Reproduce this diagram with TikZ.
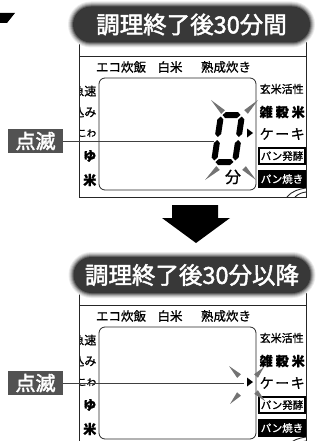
\documentclass[tikz,border=0pt]{standalone}
\usepackage{fontspec}
\setmainfont{Noto Sans CJK JP}[FakeBold=1]
\newfontfamily\heavy{Noto Sans CJK JP}[FakeBold=2]
\usetikzlibrary{shapes.misc, calc}

\newcommand{\fs}[1]{\fontsize{#1}{#1}\selectfont}
% segments of the seven-segment digit
\newcommand{\hseg}[3]{\fill (#1,#3) -- (#1+3,#3-3) -- (#2-3,#3-3) -- (#2,#3) -- (#2-3,#3+3) -- (#1+3,#3+3) -- cycle;}
\newcommand{\vseg}[3]{\fill (#1,#2) -- (#1+3,#2+3) -- (#1+3,#3-3) -- (#1,#3) -- (#1-3,#3-3) -- (#1-3,#2+3) -- cycle;}
% blink ray: tip outside, base near the mark
\newcommand{\ray}[2]{\fill[rayfill] (#1) -- ($(#2)!2.6pt!90:(#1)$) -- ($(#2)!2.6pt!-90:(#1)$) -- cycle;}

\tikzset{
    panelline/.style={line width=0.9pt, black!85},
    lcd/.style={line width=0.8pt, black!85, rounded corners=6pt},
    badge/.style={rounded rectangle, fill=black!78, text=white, minimum width=237pt, minimum height=36pt, inner sep=0pt, font=\heavy\fs{23.5}},
    glow/.style={rounded rectangle, fill=#1, inner sep=0pt},
    blinkbox/.style={fill=black!68, text=white, minimum width=55pt, minimum height=24pt, inner sep=0pt, font=\heavy\fs{20}},
    blinkline/.style={line width=0.9pt, black!75},
    lbl/.style={inner sep=0pt, font=\fs{12}},
    modebox/.style={draw, line width=1.2pt, minimum width=46pt, minimum height=16pt, inner sep=0pt, font=\fs{10.5}},
    rayfill/.style={fill=black!55}
}

\begin{document}
\begin{tikzpicture}[x=1pt, y=-1pt]
    \useasboundingbox (0,0) rectangle (332,441);
    % Arrow of the previous step
    \fill (0,13) -- (15,13) -- (7,23) -- (0,23) -- cycle;
    % Panels
    \foreach \s/\oy in {1/0, 2/249} {
        \draw[panelline] (79,\oy+35) -- (79,\oy+197) -- (306,\oy+197) -- (306,\oy+35);
        \draw[panelline] (79,\oy+56) -- (306,\oy+56);
        \draw[panelline] (287,\oy+197) .. controls (292,\oy+191) and (299,\oy+189) .. (306,\oy+188);
        \draw[panelline] (295,\oy+197) .. controls (298,\oy+194) and (302,\oy+192.5) .. (306,\oy+192);
        \draw[lcd] (99,\oy+78) rectangle (256,\oy+190);
        \node[lbl, font=\fs{12.5}] (te\s) at (121,\oy+67) {エコ炊飯};
        \node[lbl, font=\fs{12.5}] (tw\s) at (170,\oy+67) {白米};
        \node[lbl, font=\fs{12.5}] (tj\s) at (226,\oy+67) {熟成炊き};
        \begin{scope}
            \clip (80,\oy+78) rectangle (99,\oy+192);
            \node[lbl, anchor=east] (lq\s) at (96.5,\oy+91) {急速};
            \node[lbl, anchor=east] (lm\s) at (96.5,\oy+112) {込み};
            \node[lbl, anchor=east, font=\fs{9.5}] (lo\s) at (96.5,\oy+133) {おこわ};
            \node[lbl, anchor=east, font=\fs{13}\bfseries] (ly\s) at (96.5,\oy+156) {ゆ};
            \node[lbl, anchor=east, font=\fs{13}\bfseries] (lr\s) at (96.5,\oy+180) {米};
        \end{scope}
        \node[lbl, anchor=west, font=\fs{11}] (rg\s) at (259.5,\oy+89) {玄米活性};
        \node[lbl, anchor=west, font=\fs{13}\bfseries] (rz\s) at (259.5,\oy+112) {\hbox to 45pt{雑\hfil 穀\hfil 米}};
        \node[lbl, anchor=west, font=\fs{14}] (rk\s) at (259.5,\oy+134) {\hbox to 45pt{ケ\hfil ー\hfil キ}};
        \node[modebox] (rp\s) at (282,\oy+156) {パン発酵};
        \node[modebox, fill=black, text=white] (rb\s) at (282,\oy+179) {パン焼き};
    }
    % Headers
    \foreach \d/\c in {5/8, 4/18, 3/30, 2/45, 1/62} {
        \node[glow=black!\c, minimum width={237+2*\d}, minimum height={36+2*\d}] (glowA\d) at (191.5,24.5) {};
        \node[glow=black!\c, minimum width={237+2*\d}, minimum height={36+2*\d}] (glowB\d) at (192,275) {};
    }
    \node[badge] (badgeA) at (191.5,24.5) {調理終了後30分間};
    \node[badge] (badgeB) at (192,275) {調理終了後30分以降};
    % Digit 0
    \begin{scope}[shift={(228,138.5)}, xslant=0.15]
        \hseg{-9}{9}{-23.5}
        \hseg{-9}{9}{23.5}
        \vseg{10.5}{-22}{-1.5}
        \vseg{10.5}{1.5}{22}
        \vseg{-10.5}{-22}{-1.5}
        \vseg{-10.5}{1.5}{22}
    \end{scope}
    \node[lbl, font=\fs{16}] (unit) at (233,177) {分};
    % Marks
    \fill (247,128.5) -- (253,133) -- (247,137.5) -- cycle;
    \fill (247,377.5) -- (253,382) -- (247,386.5) -- cycle;
    % Rays
    \ray{211,100}{223,112}
    \ray{258,100}{246,112}
    \ray{205,180}{218,168}
    \ray{256,180}{244,168}
    \ray{229,366}{239,376}
    \ray{264,367}{256,376}
    \ray{230,404}{239,394}
    \ray{265,401}{256,392}
    % Blink labels
    \node[blinkbox] (blinkA) at (35.5,141) {点滅};
    \node[blinkbox] (blinkB) at (35.5,383) {点滅};
    \coordinate (digL) at (214,141);
    \coordinate (markL) at (244,383);
    \draw[blinkline] (blinkA.east) -- (digL);
    \draw[blinkline] (blinkB.east) -- (markL);
    % Down arrow
    \fill (172,205) -- (218,205) -- (218,218) -- (230,218) -- (196,243) -- (162,218) -- (172,218) -- cycle;
\end{tikzpicture}
\end{document}
